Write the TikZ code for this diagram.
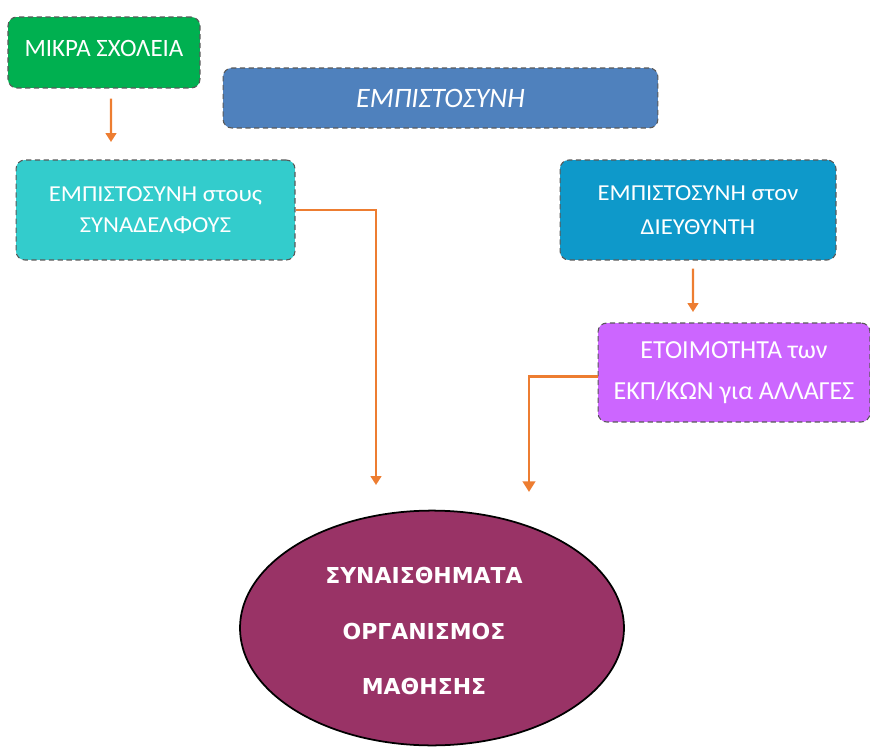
\documentclass[tikz,border=0pt]{standalone}
\usepackage{fontspec}
\setmainfont{Carlito}
\newfontfamily\ellfont{DejaVu Sans}
\newfontfamily\wideFont[FakeStretch=1.08]{Carlito}
\usetikzlibrary{arrows.meta,shapes.geometric,calc}
\definecolor{cgreen}{HTML}{00B050}
\definecolor{cblue}{HTML}{4F81BD}
\definecolor{cteal}{HTML}{33CCCC}
\definecolor{cblueb}{HTML}{0E99CA}
\definecolor{cpurple}{HTML}{CC66FF}
\definecolor{cmaroon}{HTML}{993366}
\definecolor{corange}{HTML}{ED7D31}
\tikzset{
  boxnode/.style={rounded corners=5pt, draw=gray!70!black, densely dashed, line width=0.6pt, text=white, align=center, inner sep=0pt},
  arr/.style={draw=corange, line width=1.2pt, -{Triangle[width=6pt,length=5pt]}},
  arrb/.style={draw=corange, line width=1.6pt, -{Triangle[width=7pt,length=6pt]}}
}
\begin{document}
\begin{tikzpicture}[x=0.02cm,y=-0.02cm]
\useasboundingbox (0,0) rectangle (870,747);
\node[boxnode, fill=cgreen, minimum width=3.84cm, minimum height=1.42cm, font=\fontsize{14.2}{17}\selectfont] (green) at (104,52.5)
  {\raisebox{4.3pt}{ΜΙΚΡΑ ΣΧΟΛΕΙΑ}};
\node[boxnode, fill=cblue, minimum width=8.7cm, minimum height=1.2cm, font=\fontsize{16}{18}\selectfont\itshape] (trust) at (440.5,98)
  {ΕΜΠΙΣΤΟΣΥΝΗ};
\node[boxnode, fill=cteal, minimum width=5.58cm, minimum height=2.0cm, font=\wideFont\fontsize{13}{18}\selectfont] (teal) at (155.5,210)
  {ΕΜΠΙΣΤΟΣΥΝΗ στους\\ ΣΥΝΑΔΕΛΦΟΥΣ};
\node[boxnode, fill=cblueb, minimum width=5.52cm, minimum height=2.0cm, font=\wideFont\fontsize{13}{19}\selectfont] (dir) at (698,210)
  {ΕΜΠΙΣΤΟΣΥΝΗ στον\\ ΔΙΕΥΘΥΝΤΗ};
\node[boxnode, fill=cpurple, minimum width=5.44cm, minimum height=1.98cm, font=\fontsize{14.8}{23.5}\selectfont] (ready) at (734,372.5)
  {ΕΤΟΙΜΟΤΗΤΑ των\\ ΕΚΠ/ΚΩΝ για ΑΛΛΑΓΕΣ};
\node[ellipse, draw=black, line width=1pt, fill=cmaroon, text=white,
      minimum width=7.68cm, minimum height=4.52cm, inner sep=0pt,
      font=\ellfont\bfseries\fontsize{12.5}{31.5}\selectfont] (feel) at (432,628)
  {\kern-0.32cm\begin{tabular}{@{}c@{}}ΣΥΝΑΙΣΘΗΜΑΤΑ\\ ΟΡΓΑΝΙΣΜΟΣ\\ ΜΑΘΗΣΗΣ\end{tabular}};
\coordinate (e1) at (376,485);
\coordinate (e2) at (529,492);
\coordinate (a3e) at (693,312);
\coordinate (a1e) at (111,142);
\draw[arr] ([xshift=0.14cm,yshift=-0.2cm]green.south) -- (a1e);
\draw[arr] (teal.east) -| (e1);
\draw[arr] ([xshift=-0.1cm,yshift=-0.16cm]dir.south) -- (a3e);
\draw[arrb] ([yshift=-0.08cm]ready.west) -| (e2);
\end{tikzpicture}
\end{document}
